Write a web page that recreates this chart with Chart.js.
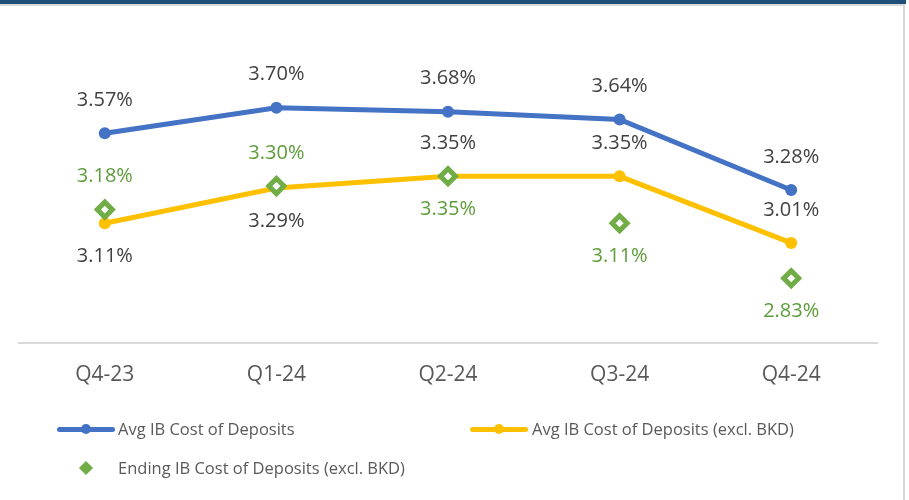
<!DOCTYPE html>
<html>
<head>
<meta charset="utf-8">
<script src="https://cdn.jsdelivr.net/npm/chart.js@4/dist/chart.umd.min.js"></script>
<style>
  html, body { margin: 0; padding: 0; background: #fff; }
  #wrap { position: relative; width: 909px; height: 500px; overflow: hidden; font-family: "Open Sans", sans-serif; }
  #topbar { position: absolute; left: 0; top: 0; width: 906px; height: 4px; background: #1F4E79; }
  #topline { position: absolute; left: 0; top: 4px; width: 903px; height: 2px; background: #DADADA; }
  #rightline { position: absolute; left: 903px; top: 4px; width: 2px; height: 496px; background: #D6D6D6; }
  #chartbox { position: absolute; left: 0; top: 0; width: 909px; height: 500px; }
  .lg { position: absolute; font-size: 16.5px; line-height: 20px; color: #595959; white-space: nowrap; }
  .ln { position: absolute; height: 5px; border-radius: 3px; }
  .dot { position: absolute; width: 10px; height: 10px; border-radius: 50%; }
  .dia { position: absolute; width: 10px; height: 10px; transform: rotate(45deg); background: #70AD47; }
</style>
</head>
<body>
<div id="wrap">
  <div id="chartbox"><canvas id="c" width="909" height="500"></canvas></div>
  <div id="topbar"></div>
  <div id="topline"></div>
  <div id="rightline"></div>
  <div id="legend"></div>
</div>
<script>
// ---- data ----
const categories = ["Q4-23", "Q1-24", "Q2-24", "Q3-24", "Q4-24"];
const avgCost = [3.57, 3.70, 3.68, 3.64, 3.28];
const avgCostExBKD = [3.11, 3.29, 3.35, 3.35, 3.01];
const endingCostExBKD = [3.18, 3.30, 3.35, 3.11, 2.83];
const seriesNames = ["Avg IB Cost of Deposits", "Avg IB Cost of Deposits (excl. BKD)", "Ending IB Cost of Deposits (excl. BKD)"];
// label placement per point
const avgLabelSide = ["above", "above", "above", "above", "above"];
const exLabelSide = ["below", "below", "above", "above", "above"];
const endLabelSide = ["above", "above", "below", "below", "below"];

const BLUE = "#4472C4", YELLOW = "#FFC000", GREEN = "#70AD47";

const labelPlugin = {
  id: "pointLabels",
  afterDatasetsDraw(chart) {
    const ctx = chart.ctx;
    ctx.save();
    ctx.font = "20px 'Open Sans'";
    ctx.textAlign = "center";
    ctx.textBaseline = "middle";
    chart.data.datasets.forEach((ds, i) => {
      const meta = chart.getDatasetMeta(i);
      meta.data.forEach((pt, j) => {
        const side = ds.labelSide[j];
        const y = side === "above" ? pt.y - 33 : pt.y + 33;
        ctx.fillStyle = ds.labelColor;
        ctx.fillText(ds.data[j].toFixed(2) + "%", pt.x, y);
      });
    });
    ctx.restore();
  }
};

new Chart(document.getElementById("c"), {
  type: "line",
  data: {
    labels: categories,
    datasets: [
      {
        label: seriesNames[0], data: avgCost, labelSide: avgLabelSide, labelColor: "#404040",
        borderColor: BLUE, backgroundColor: BLUE, borderWidth: 5, pointRadius: 6, pointHoverRadius: 6,
        pointBackgroundColor: BLUE, pointBorderWidth: 0, order: 1
      },
      {
        label: seriesNames[1], data: avgCostExBKD, labelSide: exLabelSide, labelColor: "#404040",
        borderColor: YELLOW, backgroundColor: YELLOW, borderWidth: 5, pointRadius: 6, pointHoverRadius: 6,
        pointBackgroundColor: YELLOW, pointBorderWidth: 0, order: 2
      },
      {
        label: seriesNames[2], data: endingCostExBKD, labelSide: endLabelSide, labelColor: "#5E9C3A",
        showLine: false, borderColor: GREEN, backgroundColor: "#FFFFFF", pointStyle: "rectRot",
        pointRadius: 7.5, pointHoverRadius: 7.5, pointBorderWidth: 5, pointBorderColor: GREEN,
        pointBackgroundColor: "#FFFFFF", order: 0
      }
    ]
  },
  options: {
    responsive: false,
    animation: false,
    events: [],
    layout: { padding: { left: 19, right: 32, top: 49, bottom: 92 } },
    plugins: { legend: { display: false }, tooltip: { enabled: false } },
    scales: {
      x: {
        offset: true,
        grid: { display: false, drawTicks: false },
        border: { display: true, color: "#D9D9D9", width: 2 },
        ticks: { color: "#595959", font: { family: "'Open Sans'", size: 21 }, padding: 20 }
      },
      y: { display: false, min: 2.5, max: 4.0 }
    }
  },
  plugins: [labelPlugin]
});

// ---- HTML legend ----
const lg = document.getElementById("legend");
function add(html) { lg.insertAdjacentHTML("beforeend", html); }
add(`<div class="ln" style="left:57px;top:427px;width:58px;background:${BLUE}"></div>`);
add(`<div class="dot" style="left:81px;top:424px;background:${BLUE}"></div>`);
add(`<div class="lg" style="left:118px;top:419px">${seriesNames[0]}</div>`);
add(`<div class="ln" style="left:470px;top:427px;width:58px;background:${YELLOW}"></div>`);
add(`<div class="dot" style="left:494px;top:424px;background:${YELLOW}"></div>`);
add(`<div class="lg" style="left:532px;top:419px">${seriesNames[1]}</div>`);
add(`<div class="dia" style="left:81px;top:463px"></div>`);
add(`<div class="lg" style="left:118px;top:458px">${seriesNames[2]}</div>`);
</script>
</body>
</html>
